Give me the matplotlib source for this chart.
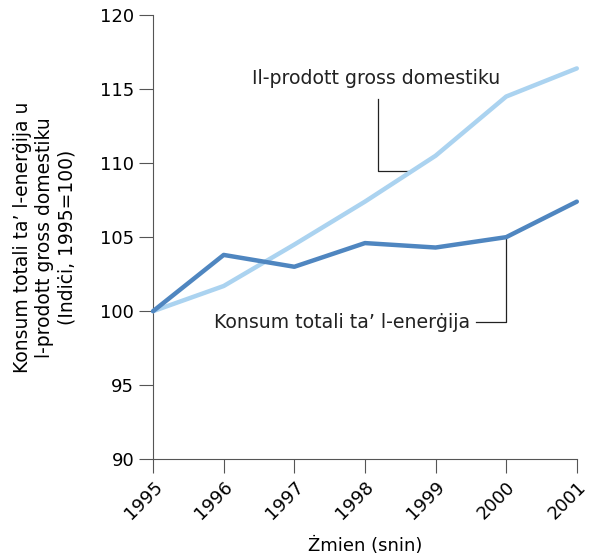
import matplotlib.pyplot as plt

# --- data ---
years = [1995, 1996, 1997, 1998, 1999, 2000, 2001]
gdp = [100, 101.7, 104.5, 107.4, 110.5, 114.5, 116.4]
energy = [100, 103.8, 103.0, 104.6, 104.3, 105.0, 107.4]

gdp_color = '#abd3f0'
energy_color = '#4f86c0'
axis_color = '#555555'

plt.rcParams['font.family'] = 'DejaVu Sans'

fig = plt.figure(figsize=(5.91, 5.6), dpi=100)
ax = fig.add_axes([0.259, 0.180, 0.717, 0.793])

ax.plot(years, gdp, color=gdp_color, linewidth=3.2, solid_capstyle='round',
        solid_joinstyle='round', clip_on=False, zorder=3)
ax.plot(years, energy, color=energy_color, linewidth=3.2, solid_capstyle='round',
        solid_joinstyle='round', clip_on=False, zorder=4)

# label connectors
ax.plot([1998.18, 1998.18, 1998.61], [114.3, 109.5, 109.5], color='#222222',
        linewidth=0.9, clip_on=False, zorder=2)
ax.plot([1999.57, 2000, 2000], [99.25, 99.25, 105.0], color='#222222',
        linewidth=0.9, clip_on=False, zorder=2)
ax.text(1998.16, 115.75, 'Il-prodott gross domestiku', fontsize=13.6,
        ha='center', va='center', color='#222222')
ax.text(1999.49, 99.25, 'Konsum totali ta\u2019 l-enerġija', fontsize=13.6,
        ha='right', va='center', color='#222222')

ax.set_xlim(1995, 2001)
ax.set_ylim(90, 120)
ax.set_xticks(years)
ax.set_yticks(range(90, 121, 5))
ax.tick_params(axis='x', labelrotation=45, length=10, color=axis_color, labelsize=13)
ax.tick_params(axis='y', length=10, color=axis_color, labelsize=13)
for lbl in ax.get_xticklabels():
    lbl.set_ha('right')
    lbl.set_rotation_mode('anchor')

for side in ['top', 'right']:
    ax.spines[side].set_visible(False)
for side in ['left', 'bottom']:
    ax.spines[side].set_color(axis_color)

ax.set_xlabel('Żmien (snin)', fontsize=13, labelpad=10)
ax.set_ylabel('Konsum totali ta\u2019 l-enerġija u\nl-prodott gross domestiku\n(Indiċi, 1995=100)',
              fontsize=13.5, labelpad=17, linespacing=1.2)

fig.savefig('out.png', dpi=100)
